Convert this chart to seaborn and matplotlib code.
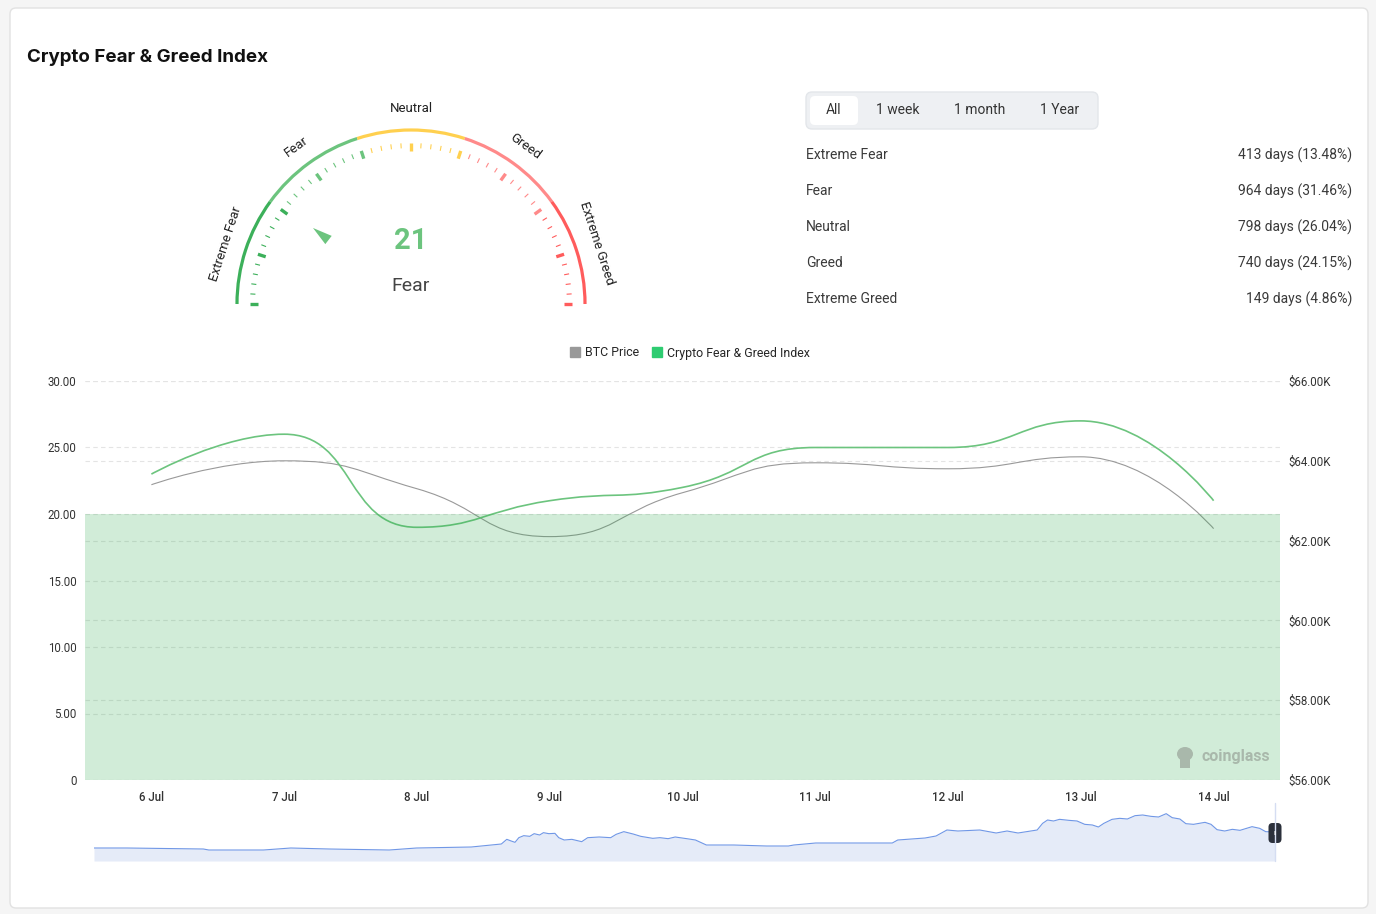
import numpy as np
import matplotlib
matplotlib.use("Agg")
import matplotlib.pyplot as plt
import seaborn as sns
from matplotlib.path import Path
from matplotlib.patches import PathPatch, FancyBboxPatch, Patch, Arc, Polygon, Rectangle, Ellipse

# main chart data (daily)
dates = ["6 Jul", "7 Jul", "8 Jul", "9 Jul", "10 Jul", "11 Jul", "12 Jul", "13 Jul", "14 Jul"]
fng_index = [23, 26, 19, 21, 22, 25, 25, 27, 21]
btc_price = [63400, 64000, 63300, 62100, 63200, 63950, 63800, 64100, 62300]

# gauge
current_value = 21
current_label = "Fear"
zone_names = ["Extreme Fear", "Fear", "Neutral", "Greed", "Extreme Greed"]
zone_edges = [0, 20, 40, 60, 80, 100]
zone_colors = ["#3cb05a", "#6cc47e", "#ffd04f", "#ff8a8a", "#ff5c5c"]

# history stats
zone_days = [413, 964, 798, 740, 149]
zone_pct = [13.48, 31.46, 26.04, 24.15, 4.86]
ranges = ["All", "1 week", "1 month", "1 Year"]

# navigator (hourly btc)
nav_hours = [0, 6, 20, 21, 31, 36, 43, 54, 59, 69,
             74.5, 75.5, 76.3, 77, 77.7, 78.6, 79.7, 80.5, 81.5, 82.2, 83.2, 84.3, 85, 86,
             87.4, 89.2, 90.3, 92.4, 94.5, 95.5, 96.9, 98.6, 100, 102.2, 103.5, 105, 106.3,
             108.4, 110, 112, 117, 123, 127, 128, 132, 138, 146, 147, 152, 154, 156, 158,
             162, 165, 167, 169, 172.5,
             173.5, 174.4, 175.5, 176.6, 178.3, 179.8, 181.2, 182.6, 183.7, 184.7, 186.2,
             187.6, 189, 190.4, 191.8, 193.3, 194.7, 196.1, 197.2, 198.6, 199.7, 201.1,
             203.2, 204.3, 205.4, 206.8, 208.2, 209.6, 211.8, 213.2, 214.3, 216]
nav_price = [57950, 57950, 57800, 57650, 57650, 57950, 57800, 57650, 57950, 58100,
             58550, 59250, 59000, 58800, 59500, 59800, 59700, 60100, 59900, 60250, 60100,
             60150, 59500, 59150, 59250, 58900, 59500, 59600, 59500, 60000, 60400, 60050,
             59700, 59400, 59500, 59350, 59600, 59350, 59150, 58400, 58400, 58250, 58250,
             58400, 58700, 58700, 58700, 59150, 59450, 59750, 60650, 60500, 60650, 60200,
             60500, 60200, 60650,
             61650, 62150, 62000, 62250, 62100, 62000, 61500, 61400, 61100, 61650, 62250,
             62400, 62300, 62800, 62900, 62700, 62600, 63100, 62500, 62300, 61600, 61500,
             61800, 61500, 60700, 60500, 60750, 60600, 61150, 60900, 60400, 60350]

W, H = 1376, 914
sns.set_theme(style="white")
plt.rcParams['font.family'] = ['Roboto', 'DejaVu Sans']

fig = plt.figure(figsize=(W / 100, H / 100), dpi=100)
fig.patch.set_facecolor("#f5f5f5")


def box(l, t, r, b):
    return [l / W, 1 - b / H, (r - l) / W, (b - t) / H]


def smooth_path(trans, xs, ys, smooth=0.5):
    # bezier smoothing like echarts "smooth: true", done in pixel space
    pts = trans.transform(np.column_stack([xs, ys]))
    verts = [tuple(pts[0])]
    codes = [Path.MOVETO]
    cp0 = tuple(pts[0])
    n = len(pts)
    for i in range(1, n):
        px, py = pts[i - 1]
        x, y = pts[i]
        nxt = None
        if i == n - 1:
            cp1 = (x, y)
        else:
            nx, ny = pts[i + 1]
            l0 = np.hypot(x - px, y - py)
            l1 = np.hypot(nx - x, ny - y)
            ratio = l1 / (l0 + l1)
            vx, vy = nx - px, ny - py
            ncx = x + vx * smooth * ratio
            ncy = y + vy * smooth * ratio
            ncx = max(min(ncx, max(nx, x)), min(nx, x))
            ncy = max(min(ncy, max(ny, y)), min(ny, y))
            vx, vy = ncx - x, ncy - y
            c1x = x - vx * l0 / l1
            c1y = y - vy * l0 / l1
            c1x = max(min(c1x, max(px, x)), min(px, x))
            c1y = max(min(c1y, max(py, y)), min(py, y))
            vx, vy = x - c1x, y - c1y
            nxt = (x + vx * l1 / l0, y + vy * l1 / l0)
            cp1 = (c1x, c1y)
        verts += [cp0, cp1, (x, y)]
        codes += [Path.CURVE4] * 3
        cp0 = nxt
    return Path(trans.inverted().transform(verts), codes)


# card background
bg = fig.add_axes([0, 0, 1, 1])
bg.set_xlim(0, W)
bg.set_ylim(H, 0)
bg.axis("off")
bg.add_patch(FancyBboxPatch((10, 8), 1358, 900, boxstyle="round,pad=0,rounding_size=6",
                            fc="white", ec="#e2e2e2", lw=1))
bg.text(27, 58, "Crypto Fear & Greed Index", fontsize=13.5, fontweight="bold",
        family=["Inter", "DejaVu Sans"], color="#111111", va="center")

# range buttons + stats
bg.add_patch(FancyBboxPatch((806, 92), 292, 37, boxstyle="round,pad=0,rounding_size=6",
                            fc="#eef0f3", ec="#e3e6ea", lw=1))
bg.add_patch(FancyBboxPatch((810, 96), 48, 29, boxstyle="round,pad=0,rounding_size=5",
                            fc="white", ec="none"))
for lbl, cx in zip(ranges, [834, 898, 980, 1060]):
    bg.text(cx, 110, lbl, fontsize=10, color="#333333", ha="center", va="center")
for i, (nm, d, p) in enumerate(zip(zone_names, zone_days, zone_pct)):
    yy = 155 + 36 * i
    bg.text(806, yy, nm, fontsize=10, color="#3a3a3a", va="center")
    bg.text(1352, yy, f"{d} days ({p:.2f}%)", fontsize=10, color="#3a3a3a", va="center", ha="right")

# gauge
R = 174
gx = fig.add_axes(box(411 - 1.32 * R, 304 - 1.32 * R, 411 + 1.32 * R, 304 + 0.2 * R))
gx.set_xlim(-1.32, 1.32)
gx.set_ylim(-0.2, 1.32)
gx.axis("off")


def ang(v):
    return np.pi * (1 - v / 100)


for k in range(5):
    gx.add_patch(Arc((0, 0), 2, 2, theta1=np.degrees(ang(zone_edges[k + 1])),
                     theta2=np.degrees(ang(zone_edges[k])), lw=2.3, color=zone_colors[k]))
    mid = ang((zone_edges[k] + zone_edges[k + 1]) / 2)
    gx.text(1.121 * np.cos(mid), 1.121 * np.sin(mid), zone_names[k], fontsize=9.5,
            color="#222222", ha="center", va="center", rotation=np.degrees(mid) - 90,
            rotation_mode="anchor")

for v in range(0, 101, 2):
    k = max(0, int(np.ceil(v / 20)) - 1)
    a = ang(v)
    major = v % 10 == 0
    r_in = 0.878 if major else 0.896
    gx.plot([r_in * np.cos(a), 0.925 * np.cos(a)], [r_in * np.sin(a), 0.925 * np.sin(a)],
            color=zone_colors[k], lw=2.4 if major else 0.8, solid_capstyle="butt")

a = ang(current_value)
u = np.array([np.cos(a), np.sin(a)])
t = np.array([-np.sin(a), np.cos(a)])
cur_color = zone_colors[max(0, int(np.ceil(current_value / 20)) - 1)]
gx.add_patch(Polygon([0.713 * u, 0.60 * u + 0.03 * t, 0.60 * u - 0.03 * t],
                     closed=True, fc=cur_color, ec="none"))
gx.text(0, 0.362, str(current_value), fontsize=21, fontweight="bold", color=cur_color,
        ha="center", va="center")
gx.text(0, 0.103, current_label, fontsize=14, color="#444444", ha="center", va="center")

# main dual-axis chart
ax = fig.add_axes(box(85, 381, 1280, 780))
xs = np.arange(len(dates))
ax.set_xlim(-0.5, len(dates) - 0.5)
ax.set_ylim(0, 30)
ax2 = ax.twinx()
ax2.set_ylim(56000, 66000)
ax.set_facecolor("none")
ax2.set_facecolor("none")

left_ticks = [0, 5, 10, 15, 20, 25, 30]
right_ticks = [56000, 58000, 60000, 62000, 64000, 66000]
ax.set_yticks(left_ticks)
ax.set_yticklabels([f"{v:.2f}" if v else "0" for v in left_ticks])
ax2.set_yticks(right_ticks)
ax2.set_yticklabels([f"${v / 1000:.2f}K" for v in right_ticks])
ax.set_xticks(xs)
ax.set_xticklabels(dates)
for a_ in (ax, ax2):
    a_.yaxis.grid(True, ls=(0, (4, 3)), color="#e4e4e4", lw=0.8)
    a_.xaxis.grid(False)
    for s in a_.spines.values():
        s.set_visible(False)
    a_.tick_params(length=0, labelsize=8.3, colors="#333333")
ax.tick_params(axis="y", pad=6)
ax2.tick_params(axis="y", pad=6)
ax.tick_params(axis="x", pad=8)
for lab in ax.get_xticklabels():
    lab.set_fontweight("medium")

ax2.add_patch(PathPatch(smooth_path(ax2.transData, xs, btc_price), transform=ax2.transData,
                        fill=False, ec="#999999", lw=0.8, zorder=3))
ax2.add_patch(PathPatch(smooth_path(ax.transData, xs, fng_index), transform=ax.transData,
                        fill=False, ec="#6cc47e", lw=1.2, zorder=3))
# fear zone band on top of everything
ax2.add_patch(Rectangle((-0.5, 0), len(dates), 20, transform=ax.transData,
                        fc="#2eaa4e", alpha=0.22, ec="none", zorder=4))

fig.legend(handles=[Patch(color="#999999"), Patch(color="#2ecc71")],
           labels=["BTC Price", "Crypto Fear & Greed Index"], loc="center",
           bbox_to_anchor=(690 / W, 1 - 353 / H), ncol=2, frameon=False, fontsize=8.9,
           handlelength=0.8, handleheight=0.8, handletextpad=0.4, columnspacing=1.0)

# navigator
axn = fig.add_axes(box(94, 803, 1275, 861))
axn.fill_between(nav_hours, nav_price, 56000, color="#e5ebf8", lw=0)
sns.lineplot(x=nav_hours, y=nav_price, ax=axn, color="#7097e6", lw=0.8)
axn.set_xlim(0, 216)
axn.set_ylim(56000, 64700)
axn.axis("off")

# overlay: watermark + navigator handle
ov = fig.add_axes([0, 0, 1, 1], zorder=10)
ov.set_xlim(0, W)
ov.set_ylim(H, 0)
ov.axis("off")
ov.patch.set_visible(False)
ov.plot([1275, 1275], [803, 861], color="#d5ddf2", lw=1)
ov.add_patch(FancyBboxPatch((1268.5, 823), 13, 20, boxstyle="round,pad=0,rounding_size=4",
                            fc="#2b303b", ec="none"))
ov.text(1275, 833.5, "II", fontsize=4.5, color="white", ha="center", va="center")
ov.add_patch(Ellipse((1185, 754), 16, 14, fc="#a9b8ab", ec="none"))
ov.add_patch(Rectangle((1180, 758), 10, 10, fc="#a9b8ab", ec="none"))
ov.text(1201, 757, "coinglass", fontsize=11.5, fontweight="bold", color="#a9b8ab", va="center")

fig.savefig("out.png", dpi=100, facecolor=fig.get_facecolor())
